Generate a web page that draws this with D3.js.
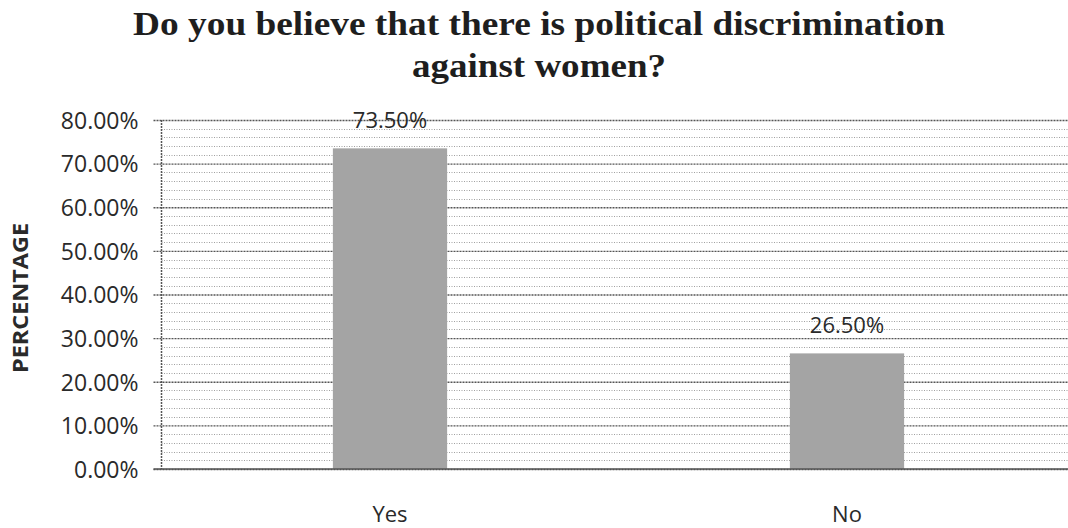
<!DOCTYPE html>
<html>
<head>
<meta charset="utf-8">
<script src="https://cdn.jsdelivr.net/npm/d3@7"></script>
<style>
  html, body { margin: 0; padding: 0; background: #ffffff; }
  svg { display: block; }
</style>
</head>
<body>
<svg id="chart" width="1068" height="528"></svg>
<script>
// Survey answers and their shares (percent)
const categories = ["Yes", "No"];
const values = [73.5, 26.5];
const yTicks = [0, 10, 20, 30, 40, 50, 60, 70, 80];
const minorTicks = d3.range(0, 81, 2).filter(v => v % 10 !== 0);
const titleLines = ["Do you believe that there is political discrimination", "against women?"];

const svg = d3.select("#chart");
const W = 1068, H = 528;

const plot = { left: 161.5, right: 1075.5, top: 120, bottom: 469 };

const x = d3.scaleBand().domain(categories).range([plot.left, plot.right]).paddingInner(0.75).paddingOuter(0.375);
const y = d3.scaleLinear().domain([0, 80]).range([plot.bottom, plot.top]);

const fmt = v => v.toFixed(2) + "%";
const sans = "'Open Sans', 'Noto Sans', sans-serif";

// Title, two centred lines
const titleWidths = [812, 254];
svg.append("g").selectAll("text").data(titleLines).join("text")
  .attr("x", 539).attr("y", (d, i) => 35 + i * 42)
  .attr("text-anchor", "middle")
  .attr("font-family", "'Liberation Serif', 'Times New Roman', serif")
  .attr("font-weight", "bold").attr("font-size", 34)
  .attr("textLength", (d, i) => titleWidths[i])
  .attr("lengthAdjust", "spacingAndGlyphs")
  .attr("fill", "#1e1e1e")
  .text(d => d);

// Minor gridlines every 2%
svg.append("g").selectAll("line").data(minorTicks).join("line")
  .attr("x1", plot.left).attr("x2", W)
  .attr("y1", d => Math.round(y(d)) + 0.5).attr("y2", d => Math.round(y(d)) + 0.5)
  .attr("stroke", "#a0a0a0").attr("stroke-width", 1).attr("stroke-dasharray", "1,1.5");

// Major gridlines and labels from the y axis
const yAxis = d3.axisLeft(y).tickValues(yTicks).tickFormat(fmt)
  .tickSize(-(W - plot.left)).tickPadding(0);
const gy = svg.append("g").attr("transform", `translate(${plot.left},0)`).call(yAxis);
gy.select(".domain").remove();
gy.selectAll(".tick line")
  .attr("x1", -8)
  .attr("stroke", "#555").attr("stroke-width", 1.3).attr("stroke-dasharray", "2,1");
gy.selectAll(".tick text")
  .attr("x", -23).attr("dy", "0.36em")
  .attr("font-family", sans)
  .attr("font-size", 23).attr("fill", "#2a2a2a");

// Vertical axis line
svg.append("line")
  .attr("x1", plot.left).attr("x2", plot.left)
  .attr("y1", y(80)).attr("y2", y(0))
  .attr("stroke", "#555").attr("stroke-width", 1.5).attr("stroke-dasharray", "2,1");

// Bars
svg.append("g").selectAll("rect").data(values).join("rect")
  .attr("x", (d, i) => x(categories[i]))
  .attr("width", x.bandwidth())
  .attr("y", d => y(d))
  .attr("height", d => y(0) - y(d))
  .attr("fill", "#a4a4a4");

// Value labels above bars
svg.append("g").selectAll("text").data(values).join("text")
  .attr("x", (d, i) => x(categories[i]) + x.bandwidth() / 2)
  .attr("y", d => y(d) - 20)
  .attr("text-anchor", "middle")
  .attr("font-family", sans)
  .attr("font-size", 22).attr("fill", "#2a2a2a")
  .text(d => fmt(d));

// Category labels
const xAxis = d3.axisBottom(x).tickSize(0).tickPadding(0);
const gx = svg.append("g").attr("transform", `translate(0,${plot.bottom})`).call(xAxis);
gx.select(".domain").remove();
gx.selectAll(".tick text")
  .attr("y", 53).attr("dy", 0)
  .attr("font-family", sans)
  .attr("font-size", 22).attr("fill", "#2a2a2a");

// Baseline
svg.append("line")
  .attr("x1", plot.left - 8).attr("x2", W)
  .attr("y1", y(0)).attr("y2", y(0))
  .attr("stroke", "#555").attr("stroke-width", 1.5);

// Axis title
svg.append("text")
  .attr("transform", `translate(28,${298}) rotate(-90)`)
  .attr("text-anchor", "middle")
  .attr("font-family", sans)
  .attr("font-weight", "bold").attr("font-size", 21).attr("fill", "#2a2a2a")
  .attr("textLength", 150).attr("lengthAdjust", "spacingAndGlyphs")
  .text("PERCENTAGE");
</script>
</body>
</html>
